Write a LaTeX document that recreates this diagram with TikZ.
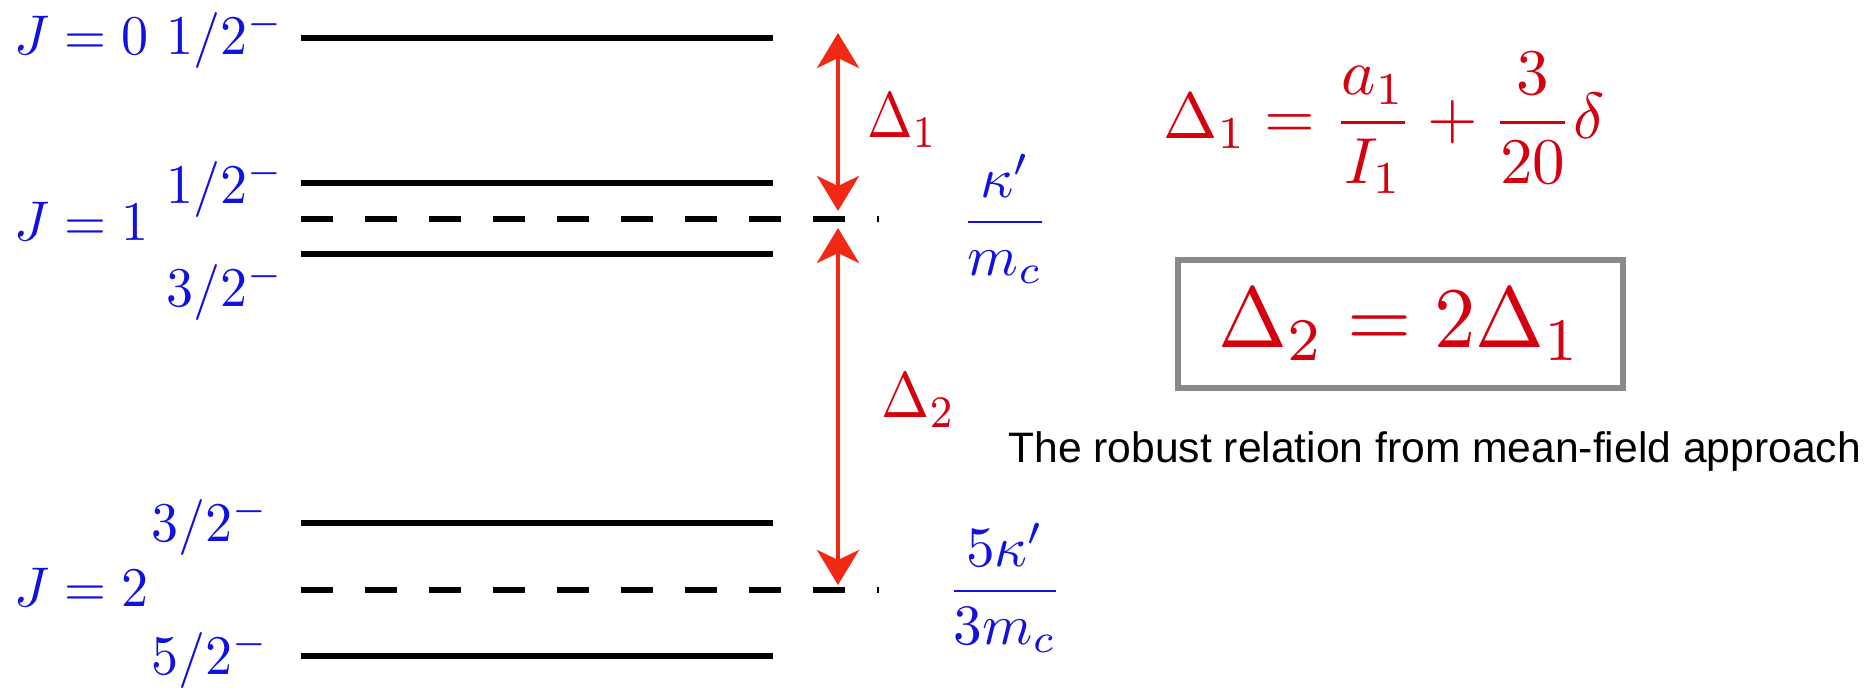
\RequirePackage{fix-cm}
\documentclass[tikz,border=0pt]{standalone}
\usepackage{fontspec}
\newfontfamily\helv{Liberation Sans}
\usetikzlibrary{arrows.meta}
\definecolor{lblue}{RGB}{18,18,222}
\definecolor{fred}{RGB}{212,0,16}
\definecolor{ared}{RGB}{240,40,20}
\definecolor{boxgray}{RGB}{136,138,141}
\newcommand{\lab}[1]{\scalebox{2.7}[2.8]{$#1$}}
\begin{document}
\begin{tikzpicture}[x=0.5pt,y=-0.5pt,
  level/.style={line width=2.6pt, black},
  dlevel/.style={level, dash pattern=on 16pt off 16pt},
  lbl/.style={text=lblue, inner sep=0pt, font=\fontsize{10}{12}\selectfont},
  dlbl/.style={text=fred, inner sep=0pt, font=\fontsize{10}{12}\selectfont},
  gap/.style={draw=ared, line width=2.4pt,
    {Stealth[length=17.5pt,width=21pt,inset=5pt]}-{Stealth[length=17.5pt,width=21pt,inset=5pt]}}
]
\useasboundingbox (0,0) rectangle (1874,688);

% levels
\coordinate (l0w) at (301,38);  \coordinate (l0e) at (773,38);
\coordinate (l1aw) at (301,183); \coordinate (l1ae) at (773,183);
\coordinate (l1dw) at (301,219); \coordinate (l1de) at (879,219);
\coordinate (l1bw) at (301,254); \coordinate (l1be) at (773,254);
\coordinate (l2aw) at (301,523); \coordinate (l2ae) at (773,523);
\coordinate (l2dw) at (301,590); \coordinate (l2de) at (879,590);
\coordinate (l2bw) at (301,656); \coordinate (l2be) at (773,656);
\draw[level] (l0w) -- (l0e);
\draw[level] (l1aw) -- (l1ae);
\draw[dlevel] (l1dw) -- (l1de);
\draw[level] (l1bw) -- (l1be);
\draw[level] (l2aw) -- (l2ae);
\draw[dlevel] (l2dw) -- (l2de);
\draw[level] (l2bw) -- (l2be);

% left labels
\node[lbl, anchor=base west] (j0) at (14,55) {\lab{J=0}};
\node[lbl, anchor=base east] (s0) at (284,55) {\lab{1/2^-}};
\node[lbl, anchor=base east] (s1a) at (284,204) {\lab{1/2^-}};
\node[lbl, anchor=base west] (j1) at (14,241) {\lab{J=1}};
\node[lbl, anchor=base east] (s1b) at (284,307) {\lab{3/2^-}};
\node[lbl, anchor=base east] (s2a) at (269,542) {\lab{3/2^-}};
\node[lbl, anchor=base west] (j2) at (14,607) {\lab{J=2}};
\node[lbl, anchor=base east] (s2b) at (269,675) {\lab{5/2^-}};

% right fractions
\node[lbl, anchor=base] (f1) at (1005,236) {\scalebox{2.9}[2.85]{$\displaystyle\frac{\kappa'}{m_c}$}};
\node[lbl, anchor=base] (f2) at (1005,605) {\scalebox{2.86}[2.85]{$\displaystyle\frac{5\kappa'}{3m_c}$}};

% gap arrows
\coordinate (d1t) at (838,33);  \coordinate (d1b) at (838,211);
\coordinate (d2t) at (838,228); \coordinate (d2b) at (838,585);
\draw[gap] (d1t) -- (d1b);
\draw[gap] (d2t) -- (d2b);
\node[dlbl, anchor=base west] (D1) at (867,138) {\resizebox{35pt}{22pt}{$\Delta_1$}};
\node[dlbl, anchor=base west] (D2) at (881,418) {\resizebox{37pt}{22pt}{$\Delta_2$}};

% formulas
\node[dlbl, anchor=base west] (eq1) at (1163,139)
  {\resizebox{220.5pt}{43pt}{$\displaystyle\Delta_1=\frac{a_1}{I_1}+\frac{3}{20}\delta$}};
\draw[boxgray, line width=2.8pt] (1178,260) rectangle (1623,388);
\node[dlbl, anchor=base] (eq2) at (1400,348)
  {\resizebox{181.5pt}{29.5pt}{$\Delta_2=2\Delta_1$}};
\node[inner sep=0pt, anchor=base west, font=\helv\fontsize{21.3}{26}\selectfont] (txt) at (1008,463)
  {The robust relation from mean-field approach};
\end{tikzpicture}
\end{document}
